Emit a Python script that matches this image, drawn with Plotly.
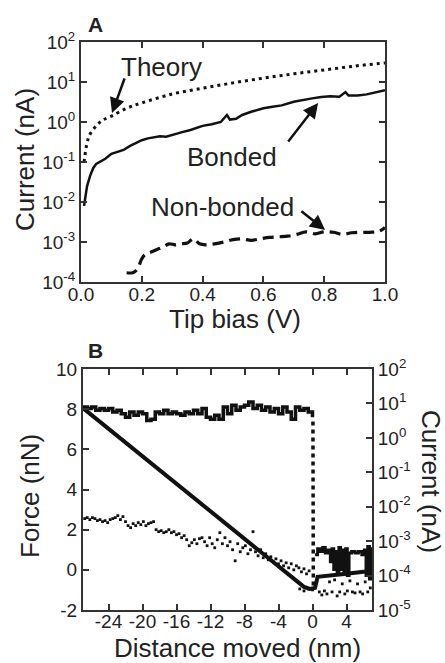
import plotly.graph_objects as go

# ---------------- Panel A data ----------------
theory_x = [0.01, 0.02, 0.03, 0.05, 0.07, 0.10, 0.15, 0.20, 0.30, 0.40, 0.50, 0.60, 0.70, 0.80, 0.90, 1.00]
theory_y = [0.10, 0.30, 0.50, 0.80, 1.10, 1.40, 2.2, 3.0, 5.0, 7.0, 9.5, 12.5, 16.0, 20.0, 25.0, 30.0]

bonded_x = [0.01, 0.015, 0.02, 0.03, 0.04, 0.05, 0.06, 0.08, 0.10, 0.12, 0.14, 0.16, 0.18, 0.20,
            0.22, 0.24, 0.26, 0.28, 0.30, 0.33, 0.36, 0.40, 0.43, 0.46, 0.48, 0.49, 0.51, 0.53,
            0.56, 0.60, 0.63, 0.66, 0.70, 0.73, 0.76, 0.79, 0.82, 0.85, 0.87, 0.88, 0.91, 0.94,
            0.97, 1.00]
bonded_y = [0.008, 0.015, 0.025, 0.045, 0.07, 0.09, 0.10, 0.12, 0.16, 0.18, 0.20, 0.25, 0.30, 0.35,
            0.39, 0.42, 0.44, 0.43, 0.48, 0.55, 0.63, 0.80, 0.88, 1.0, 1.5, 1.15, 1.2, 1.5,
            1.8, 2.2, 2.4, 2.6, 3.2, 3.6, 3.9, 4.2, 4.4, 4.3, 5.6, 4.6, 4.6, 4.9,
            5.5, 6.2]

nonbonded_x = [0.15, 0.17, 0.18, 0.19, 0.20, 0.21, 0.23, 0.25, 0.27, 0.29, 0.31, 0.33, 0.35, 0.37,
               0.39, 0.41, 0.44, 0.47, 0.50, 0.53, 0.56, 0.59, 0.62, 0.65, 0.68, 0.71, 0.74, 0.77,
               0.80, 0.83, 0.86, 0.89, 0.92, 0.95, 0.98, 1.00]
nonbonded_y = [1.7e-4, 1.7e-4, 1.9e-4, 2.5e-4, 3.8e-4, 4.8e-4, 5.6e-4, 6.5e-4, 7.5e-4, 9.0e-4,
               8.5e-4, 9.0e-4, 9.5e-4, 1.2e-3, 9.0e-4, 8.5e-4, 9.0e-4, 1.0e-3, 1.15e-3, 1.2e-3,
               1.1e-3, 1.2e-3, 1.3e-3, 1.35e-3, 1.4e-3, 1.55e-3, 1.8e-3, 1.6e-3, 1.8e-3, 1.75e-3,
               1.55e-3, 1.7e-3, 1.75e-3, 1.75e-3, 1.85e-3, 2.3e-3]

a_xticks = [0.0, 0.2, 0.4, 0.6, 0.8, 1.0]
a_xticklabels = ["0.0", "0.2", "0.4", "0.6", "0.8", "1.0"]
a_yticks = [1e-4, 1e-3, 1e-2, 1e-1, 1e0, 1e1, 1e2]
a_yticklabels = ["10<sup>-4</sup>", "10<sup>-3</sup>", "10<sup>-2</sup>", "10<sup>-1</sup>",
                 "10<sup>0</sup>", "10<sup>1</sup>", "10<sup>2</sup>"]

# ---------------- Panel B data ----------------
force_x = [-27.0, -20.0, -10.0, -1.0, -0.3, 0.3, 0.6, 2.0, 4.0, 6.0, 7.0]
force_y = [8.05, 5.65, 2.25, -0.85, -0.95, -0.9, -0.35, -0.3, -0.2, -0.1, 0.0]

current_x = [-27.0, -26.5, -26.0, -25.5, -25.0, -24.5, -24.0, -23.5, -23.0, -22.5, -22.0, -21.5,
             -21.0, -20.5, -20.0, -19.5, -19.0, -18.5, -18.0, -17.5, -17.0, -16.5, -16.0, -15.5,
             -15.0, -14.5, -14.0, -13.5, -13.0, -12.5, -12.0, -11.5, -11.0, -10.5, -10.0, -9.5,
             -9.0, -8.5, -8.0, -7.5, -7.0, -6.5, -6.0, -5.5, -5.0, -4.5, -4.0, -3.5, -3.0, -2.5,
             -2.0, -1.5, -1.0, -0.5, 0.0]
current_y = [7.9, 7.1, 7.9, 6.3, 7.1, 6.3, 7.1, 5.6, 6.3, 5.0, 4.0, 5.6,
             4.5, 5.6, 5.0, 3.2, 3.5, 5.6, 5.0, 6.3, 5.0, 5.6, 5.0, 4.5,
             5.6, 5.0, 6.3, 5.0, 7.1, 4.0, 3.5, 4.5, 3.5, 7.9, 5.0, 8.9,
             6.3, 7.9, 8.9, 11.0, 7.1, 8.9, 6.3, 7.9, 5.6, 7.1, 5.0, 7.9, 5.6, 3.5,
             7.9, 6.3, 7.1, 5.6, 4.0]

drop_x = [0.05, 0.1]
drop_y = [3.0, 5e-5]

post_x = [0.3, 0.6, 0.9, 1.2, 1.5, 1.8, 2.1, 2.3, 2.5, 2.7, 2.9, 3.1, 3.3, 3.5, 3.7, 3.9,
          4.1, 4.3, 4.6, 5.0, 5.4, 5.8, 6.1, 6.3, 6.5, 6.7, 6.9, 7.0]
post_y = [4.0e-4, 6.0e-4, 5.0e-4, 6.5e-4, 4.5e-4, 5.5e-4, 2.5e-4, 6.0e-4, 1.5e-4, 5.0e-4,
          1.2e-4, 6.5e-4, 1.5e-4, 5.5e-4, 1.2e-4, 6.0e-4, 1.0e-4, 4.5e-4, 5.0e-4, 4.5e-4,
          5.0e-4, 4.0e-4, 5.5e-4, 1.0e-4, 7.0e-4, 8.0e-5, 6.0e-4, 1.5e-4]

dots_x = [-26.8, -26.5, -26.2, -25.9, -25.6, -25.3, -25.0, -24.7, -24.4, -24.1, -23.8, -23.5,
          -23.2, -22.9, -22.6, -22.3, -22.0, -21.7, -21.4, -21.1, -20.8, -20.5, -20.2, -19.9,
          -19.6, -19.3, -19.0, -18.7, -18.4, -18.1, -17.8, -17.5, -17.2, -16.9, -16.6, -16.3,
          -16.0, -15.7, -15.4, -15.1, -14.8, -14.5, -14.2, -13.9, -13.6, -13.3, -13.0, -12.7,
          -12.4, -12.1, -11.8, -11.5, -11.2, -10.9, -10.6, -10.3, -10.0, -9.7, -9.4, -9.1,
          -8.8, -8.5, -8.2, -7.9, -7.6, -7.3, -7.0, -6.7, -6.4, -6.1, -5.8, -5.5, -5.2, -4.9,
          -4.6, -4.3, -4.0, -3.7, -3.4, -3.1, -2.8, -2.5, -2.2, -1.9, -1.6, -1.3, -1.0, -0.7,
          -0.4, -1.5, -1.0, -0.5, 0.0, 0.8, 1.1, 1.4, 1.7, 2.0, 2.3, 2.6, 2.9, 3.2, 3.5, 3.8,
          4.1, 4.4, 4.7, 5.0, 5.3, 5.6, 5.9, 6.2, 6.5, 6.8]
dots_y = [2.55, 2.6, 2.5, 2.6, 2.55, 2.45, 2.5, 2.4, 2.45, 2.35, 2.5, 2.55,
          2.6, 2.7, 2.5, 2.65, 2.4, 2.2, 2.1, 2.3, 2.2, 2.35, 2.25, 2.4,
          2.2, 2.3, 2.35, 2.4, 2.0, 1.9, 1.95, 1.85, 1.9, 2.0, 1.85, 1.9,
          1.75, 1.8, 1.6, 1.7, 1.5, 1.2, 1.35, 1.5, 1.3, 1.55, 1.6, 1.4,
          1.2, 1.6, 1.3, 1.1, 1.5, 1.85, 1.3, 1.6, 1.2, 1.4, 1.0, 0.45,
          1.3, 0.9, 1.1, 1.2, 0.8, 1.0, 1.9, 0.9, 0.7, 1.0, 0.6, 0.8, 0.5, 0.65,
          0.4, 0.55, 0.3, 0.45, 0.2, 0.35, 0.1, 0.3, 0.0, 0.2, 0.1, -0.1, 0.05, -0.2,
          -0.05, -0.95, -1.05, -0.95, -1.0, -1.1, -1.25, -1.05, -1.2, -0.6, -1.1, -0.5, -1.3, -1.1, -0.7, -1.2,
          -1.05, -0.55, -1.1, -1.15, -0.7, -1.1, -1.2, -0.6, -1.1, -0.9]

b_xticks = [-24, -20, -16, -12, -8, -4, 0, 4]
b_xticklabels = ["-24", "-20", "-16", "-12", "-8", "-4", "0", "4"]
b_yticks = [-2, 0, 2, 4, 6, 8, 10]
b_yticklabels = ["-2", "0", "2", "4", "6", "8", "10"]
b_y2ticks = [1e-5, 1e-4, 1e-3, 1e-2, 1e-1, 1e0, 1e1, 1e2]
b_y2ticklabels = ["10<sup>-5</sup>", "10<sup>-4</sup>", "10<sup>-3</sup>", "10<sup>-2</sup>",
                  "10<sup>-1</sup>", "10<sup>0</sup>", "10<sup>1</sup>", "10<sup>2</sup>"]

# ---------------- figure ----------------
W, H = 445, 663
FONT = "Liberation Sans, Arial, sans-serif"
TXT = "#222222"
LINE = "#111111"

fig = go.Figure()

fig.add_trace(go.Scatter(x=theory_x, y=theory_y, mode="lines", line=dict(color=LINE, width=3, dash="3px,4px"),
                         xaxis="x", yaxis="y", line_shape="spline"))
fig.add_trace(go.Scatter(x=bonded_x, y=bonded_y, mode="lines", line=dict(color=LINE, width=2.5),
                         xaxis="x", yaxis="y"))
fig.add_trace(go.Scatter(x=nonbonded_x, y=nonbonded_y, mode="lines", line=dict(color=LINE, width=3.2, dash="11px,6px"),
                         xaxis="x", yaxis="y", line_shape="spline"))

fig.add_trace(go.Scatter(x=dots_x, y=dots_y, mode="markers",
                         marker=dict(color=LINE, size=2.8, symbol="square"), xaxis="x2", yaxis="y2"))
fig.add_trace(go.Scatter(x=force_x, y=force_y, mode="lines", line=dict(color=LINE, width=4),
                         xaxis="x2", yaxis="y2"))
fig.add_trace(go.Scatter(x=current_x, y=current_y, mode="lines", line=dict(color=LINE, width=3.5),
                         line_shape="hv", xaxis="x2", yaxis="y3"))
fig.add_trace(go.Scatter(x=drop_x, y=drop_y, mode="lines", line=dict(color=LINE, width=3.5, dash="4px,4px"),
                         xaxis="x2", yaxis="y3"))
fig.add_trace(go.Scatter(x=post_x, y=post_y, mode="lines", line=dict(color=LINE, width=3),
                         line_shape="hv", xaxis="x2", yaxis="y3"))


def px(xp):
    return xp / W


def py(yp):
    return 1 - yp / H


axis_common = dict(showline=True, linecolor="#333333", linewidth=2, ticks="inside", ticklen=6,
                   tickwidth=2, tickcolor="#333333", showgrid=False, zeroline=False, automargin=False,
                   tickfont=dict(family=FONT, size=19, color=TXT))

fig.update_layout(
    width=W, height=H, margin=dict(l=0, r=0, t=0, b=0, pad=0, autoexpand=False),
    paper_bgcolor="white", plot_bgcolor="white", showlegend=False,
    font=dict(family=FONT, color=TXT),
    xaxis=dict(domain=[px(81), px(385)], anchor="y", range=[0, 1], tickvals=a_xticks,
               ticktext=a_xticklabels, mirror="ticks", ticklabelstandoff=-6, **axis_common),
    yaxis=dict(domain=[py(282), py(42)], anchor="x", type="log", range=[-4, 2], tickvals=a_yticks,
               ticktext=a_yticklabels, mirror="ticks", **axis_common),
    xaxis2=dict(domain=[px(83), px(372)], anchor="y2", range=[-27, 7], tickvals=b_xticks,
                ticktext=b_xticklabels, mirror="ticks", ticklabelstandoff=-7, **axis_common),
    yaxis2=dict(domain=[py(610), py(369)], anchor="x2", range=[-2, 10], tickvals=b_yticks,
                ticktext=b_yticklabels, mirror=False, **axis_common),
    yaxis3=dict(overlaying="y2", anchor="x2", side="right", type="log", range=[-5, 2],
                tickvals=b_y2ticks, ticktext=b_y2ticklabels, **axis_common),
)

ann = []
TS = 26


def label(text, xp, yp, size=TS, angle=0):
    return dict(text=text, x=px(xp), y=py(yp), xref="paper", yref="paper", showarrow=False,
                xanchor="center", yanchor="middle", textangle=angle,
                font=dict(family=FONT, size=size, color=TXT))


# Panel labels
ann.append(label("<b>A</b>", 95, 25, 21))
ann.append(label("<b>B</b>", 95, 350, 21))
# Axis titles
ann.append(label("Current (nA)", 25, 160, TS, -90))
ann.append(label("Tip bias (V)", 235, 319))
ann.append(label("Force (nN)", 30, 496, TS, -90))
ann.append(label("Current (nA)", 431, 481, TS, 90))
ann.append(label("Distance moved (nm)", 237, 648))
# Curve labels
for (t, x, y) in [("Theory", 0.266, 1.375), ("Bonded", 0.497, -0.875), ("Non-bonded", 0.464, -2.125)]:
    ann.append(dict(text=t, x=x, y=y, xref="x", yref="y", showarrow=False, xanchor="center",
                    yanchor="middle", font=dict(family=FONT, size=TS, color=TXT)))
# Arrows
for (tx, ty, hx, hy) in [(0.145, 1.125, 0.102, 0.225), (0.678, -0.525, 0.78, 0.475), (0.72, -2.2, 0.803, -2.7)]:
    ann.append(dict(text="", x=hx, y=hy, ax=tx, ay=ty, xref="x", yref="y", axref="x", ayref="y",
                    showarrow=True, arrowhead=2, arrowsize=1.2, arrowwidth=2.5, arrowcolor=LINE))

fig.update_layout(annotations=ann)
fig.write_html("out.html", config={"displayModeBar": False},
               post_script="document.body.style.margin='0px';document.body.style.padding='0px';")
